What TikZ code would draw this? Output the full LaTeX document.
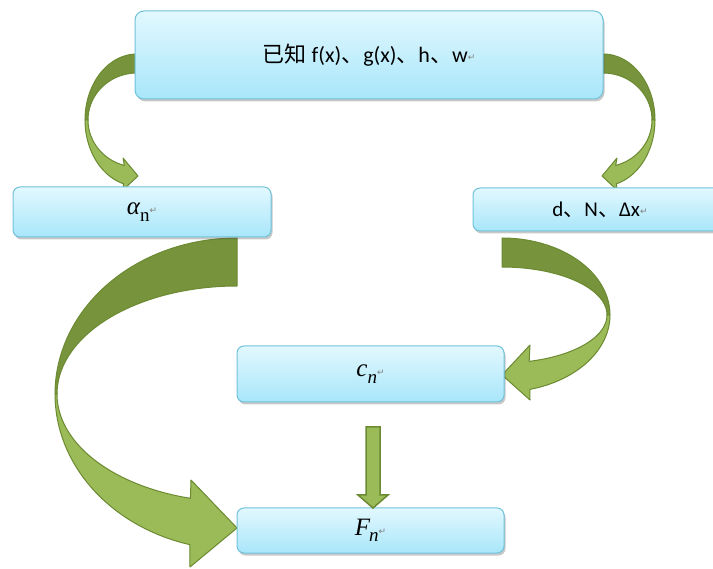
\documentclass[tikz,border=0pt]{standalone}
\usepackage[no-math]{fontspec}
\setmainfont{Carlito}
\newfontfamily\cjk{Noto Sans CJK SC}
\newfontfamily\symfnt{DejaVu Sans}
\newfontfamily\mfnt{Liberation Serif}
\usetikzlibrary{shadows,calc}
\definecolor{boxtop}{HTML}{E2F8FE}
\definecolor{boxbot}{HTML}{A8E6FA}
\definecolor{boxline}{HTML}{6FC3DB}
\definecolor{gdark}{HTML}{77933C}
\definecolor{glight}{HTML}{9BBB59}
\definecolor{gline}{HTML}{6B8A32}
\newcommand\retmark{{\symfnt\fontsize{9}{9}\selectfont\color{gray}\raisebox{0.3ex}{↵}}}
\newcommand\subsc[1]{\raisebox{-0.25em}{\mfnt\fontsize{19}{19}\selectfont #1}}
\tikzset{
  box/.style={draw=boxline, line width=1pt, rounded corners=7pt,
    top color=boxtop, bottom color=boxbot,
    drop shadow={shadow xshift=1.5pt, shadow yshift=-2.5pt, opacity=0.3, fill=black!70},
    inner sep=0pt, outer sep=0pt, align=center},
  backband/.style={fill=gdark, draw=gline, line width=1pt, line join=round},
  frontband/.style={fill=glight, draw=gline, line width=1pt, line join=round},
}
\begin{document}
\begin{tikzpicture}[x=1pt,y=-1pt]
\fill[white] (0,0) rectangle (713,569);
\useasboundingbox (0,0) rectangle (713,569);

% ---------- small left arrow (top box -> alpha) ----------
\draw[backband] plot[domain=270:180,samples=30,variable=\t] ({137+52*cos(\t)},{120+66*sin(\t)})
  -- plot[domain=180:270,samples=30,variable=\t] ({137+49*cos(\t)},{120+47*sin(\t)}) -- cycle;
\draw[frontband] plot[domain=180:105,samples=30,variable=\t] ({137+52*cos(\t)},{120+66*sin(\t)})
  -- (123,190) -- (138,176) -- (123,158)
  -- plot[domain=105:180,samples=30,variable=\t] ({137+49*cos(\t)},{120+47*sin(\t)}) -- cycle;

% ---------- small right arrow (top box -> d,N,dx) ----------
\draw[backband] plot[domain=270:360,samples=30,variable=\t] ({603+52*cos(\t)},{120+66*sin(\t)})
  -- plot[domain=360:270,samples=30,variable=\t] ({603+49*cos(\t)},{120+47*sin(\t)}) -- cycle;
\draw[frontband] plot[domain=0:75,samples=30,variable=\t] ({603+52*cos(\t)},{120+66*sin(\t)})
  -- (617,190) -- (602,176) -- (617,158)
  -- plot[domain=75:0,samples=30,variable=\t] ({603+49*cos(\t)},{120+47*sin(\t)}) -- cycle;

% ---------- big left arrow (alpha -> F) ----------
\draw[backband] plot[domain=270:180,samples=50,variable=\t] ({237+182*cos(\t)},{394+156*sin(\t)})
  -- plot[domain=180:270,samples=50,variable=\t] ({237+180*cos(\t)},{394+108*sin(\t)}) -- cycle;
\draw[frontband] plot[domain=180:105,samples=50,variable=\t] ({237+182*cos(\t)},{394+156*sin(\t)})
  -- (190,567) -- (237,528) -- (191,480)
  -- plot[domain=105:180,samples=50,variable=\t] ({237+180*cos(\t)},{394+108*sin(\t)}) -- cycle;

% ---------- big right arrow (d,N,dx -> c) ----------
\draw[backband] plot[domain=270:360,samples=40,variable=\t] ({502+108*cos(\t)},{315+77*sin(\t)})
  -- plot[domain=360:270,samples=40,variable=\t] ({502+105*cos(\t)},{315+48*sin(\t)}) -- cycle;
\draw[frontband] plot[domain=0:75,samples=40,variable=\t] ({502+108*cos(\t)},{315+77*sin(\t)})
  -- (530,400) -- (502,375) -- (530,345)
  -- plot[domain=75:0,samples=40,variable=\t] ({502+105*cos(\t)},{315+48*sin(\t)}) -- cycle;

% ---------- boxes ----------
\node[box, minimum width=468pt, minimum height=88pt, rounded corners=9pt] (top) at (369,55)
  {\fontsize{22}{24}\selectfont{\cjk 已知} f(x){\cjk 、}g(x){\cjk 、}h{\cjk 、}w\retmark};
\node[box, minimum width=258pt, minimum height=50pt] (alpha) at (142,212)
  {\fontsize{25}{26}\selectfont\mfnt{\itshape α}\subsc{n}\retmark};
\node[box, minimum width=254pt, minimum height=43pt] (dnx) at (600,209.5)
  {\fontsize{21}{24}\selectfont d{\cjk 、}N{\cjk 、}Δx\retmark};
\node[box, minimum width=267pt, minimum height=56pt] (c) at (370.5,374)
  {\fontsize{25}{26}\selectfont\mfnt{\itshape c}\subsc{\itshape n}\retmark};
\node[box, minimum width=267pt, minimum height=45pt] (F) at (370.5,530.5)
  {\fontsize{25}{26}\selectfont\mfnt{\itshape F}\kern-1pt\subsc{\itshape n}\retmark};

% ---------- straight down arrow (c -> F) ----------
\coordinate (dtip) at ($(F.north)+(2.5,0)$);
\coordinate (dtop) at ($(c.south)+(2.5,25)$);
\draw[frontband, line width=1.5pt, line join=miter]
  ($(dtop)+(-7,0)$) -- ($(dtop)+(7,0)$) -- ($(dtip)+(7,-13)$) -- ($(dtip)+(15,-13)$)
  -- (dtip) -- ($(dtip)+(-15,-13)$) -- ($(dtip)+(-7,-13)$) -- cycle;
\end{tikzpicture}
\end{document}
